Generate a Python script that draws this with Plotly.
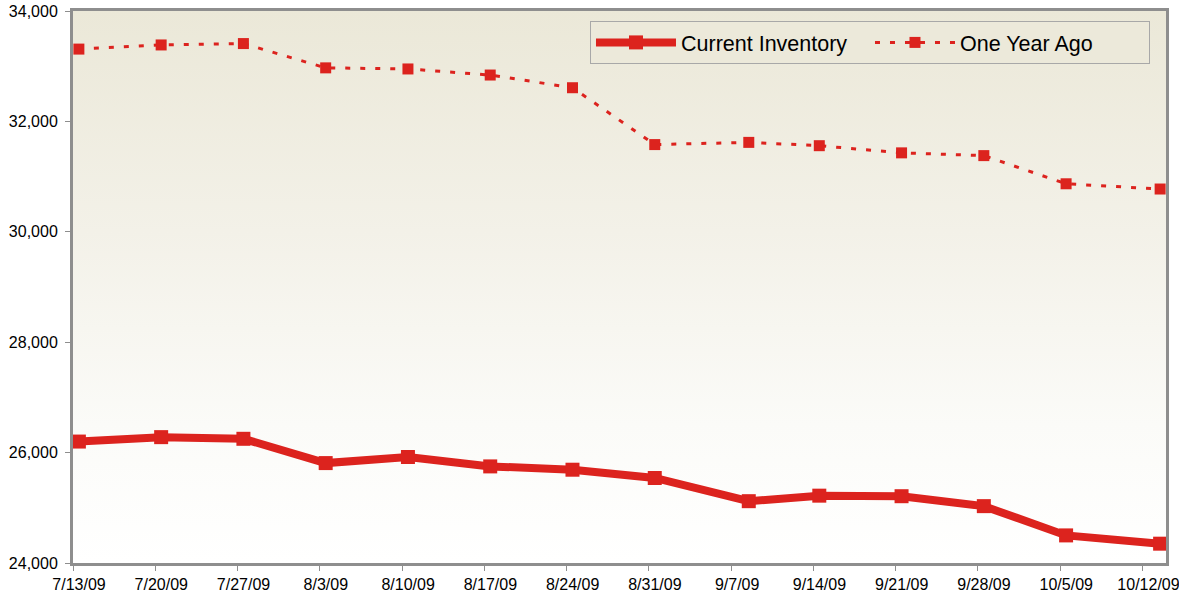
import pandas as pd
import plotly.graph_objects as go

# Data
dates = ["2009-07-13", "2009-07-20", "2009-07-27", "2009-08-03", "2009-08-10",
         "2009-08-17", "2009-08-24", "2009-08-31", "2009-09-08", "2009-09-14",
         "2009-09-21", "2009-09-28", "2009-10-05", "2009-10-13"]
current_inventory = [26200, 26280, 26250, 25810, 25920, 25750, 25690, 25540,
                     25120, 25220, 25210, 25030, 24500, 24350]
one_year_ago = [33310, 33385, 33410, 32970, 32950, 32840, 32610, 31580,
                31620, 31560, 31430, 31380, 30870, 30775]
y_ticks = [24000, 26000, 28000, 30000, 32000, 34000]

x = pd.to_datetime(dates) + pd.Timedelta(hours=12)
x_start = pd.Timestamp("2009-07-13")
x_end = pd.Timestamp("2009-10-14")

RED = "#DC231E"
fig = go.Figure()

# gradient background of the plot area
fig.add_trace(go.Scatter(
    x=[x_start, x_end, x_end, x_start, x_start],
    y=[y_ticks[0], y_ticks[0], y_ticks[-1], y_ticks[-1], y_ticks[0]],
    mode="lines", line=dict(width=0), fill="toself",
    fillgradient=dict(type="vertical",
                      colorscale=[[0, "#FFFFFF"], [0.25, "#FBFBF8"], [0.6, "#F3F1E8"], [1, "#EBE8D8"]]),
    hoverinfo="skip", showlegend=False))

fig.add_trace(go.Scatter(
    x=x, y=current_inventory, name="Current Inventory", mode="lines+markers",
    line=dict(color=RED, width=8),
    marker=dict(symbol="square", size=14, color=RED),
    cliponaxis=False))
fig.add_trace(go.Scatter(
    x=x, y=one_year_ago, name="One Year Ago", mode="lines+markers",
    line=dict(color=RED, width=3, dash="5px,10px"),
    marker=dict(symbol="square", size=11, color=RED),
    cliponaxis=False))

fig.update_layout(
    width=1179, height=599,
    margin=dict(l=73, r=13, t=11, b=36),
    paper_bgcolor="white", plot_bgcolor="white",
    font=dict(family="Liberation Sans, Arial, sans-serif", color="black", size=16),
    legend=dict(orientation="h", x=0.473, y=0.982, xanchor="left", yanchor="top",
                bgcolor="rgba(236,233,218,1)", bordercolor="#A8A8A8", borderwidth=1,
                font=dict(size=21.5), entrywidth=184, itemwidth=80,
                tracegroupgap=0),
    showlegend=True,
)
fig.update_xaxes(
    type="date", range=[x_start, x_end], automargin=False,
    tick0="2009-07-13", dtick=7 * 86400000, tickformat="%-m/%-d/%y", tickangle=0,
    ticks="outside", ticklen=5, tickcolor="#8E8E8E", tickwidth=1,
    ticklabelshift=6, ticklabeloverflow="allow",
    showgrid=False, showline=True, linecolor="#8E8E8E", linewidth=3, mirror=True,
    zeroline=False, tickfont=dict(size=16))
fig.update_yaxes(
    range=[y_ticks[0], y_ticks[-1]], tickvals=y_ticks, tickformat=",", automargin=False,
    ticks="outside", ticklen=5, tickcolor="#8E8E8E", tickwidth=1, ticklabelstandoff=4,
    showgrid=True, gridcolor="#A8A8A8", gridwidth=1,
    showline=True, linecolor="#8E8E8E", linewidth=3, mirror=True,
    zeroline=False, tickfont=dict(size=16))

fig.write_html("out.html", config={"displayModeBar": False},
               post_script="document.body.style.margin='0px';")
